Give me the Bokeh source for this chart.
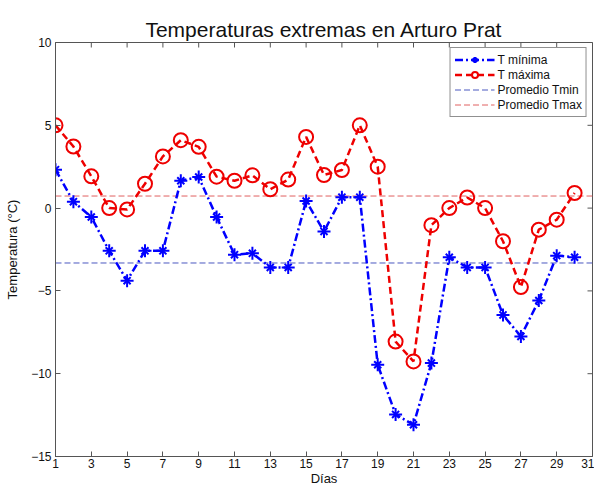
import math
from bokeh.plotting import figure
from bokeh.models import Range1d, FixedTicker, Legend, LegendItem
from bokeh.embed import file_html
from bokeh.resources import INLINE

dias = list(range(1, 31))
t_min = [2.32, 0.39, -0.54, -2.58, -4.38, -2.58, -2.58, 1.65, 1.88, -0.54,
         -2.81, -2.73, -3.58, -3.58, 0.43, -1.41, 0.66, 0.66, -9.46, -12.46,
         -13.08, -9.36, -2.97, -3.58, -3.58, -6.45, -7.75, -5.58, -2.87, -2.97]
t_max = [5.0, 3.72, 1.92, 0.0, -0.08, 1.47, 3.12, 4.1, 3.7, 1.9,
         1.65, 1.98, 1.14, 1.72, 4.3, 2.0, 2.3, 5.0, 2.5, -8.06,
         -9.26, -1.03, 0.0, 0.64, 0.0, -2.0, -4.77, -1.3, -0.7, 0.91]
x_ticks = list(range(1, 32, 2))
y_ticks = [-15, -10, -5, 0, 5, 10]
x_lim = [1, 31]
y_lim = [-15, 10]

prom_min = sum(t_min) / len(t_min)
prom_max = sum(t_max) / len(t_max)

FONT = "Liberation Sans"
AX = "#555555"

p = figure(width=594, height=488, x_range=Range1d(*x_lim), y_range=Range1d(*y_lim),
           output_backend="svg", toolbar_location=None,
           min_border_left=55, min_border_right=2, min_border_top=42, min_border_bottom=20,
           title="Temperaturas extremas en Arturo Prat")
p.title.align = "center"
p.title.text_font = FONT
p.title.text_font_size = "21px"
p.title.text_font_style = "normal"
p.title.text_color = "#111111"
p.title.standoff = 4
p.grid.visible = False
p.outline_line_color = AX
p.outline_line_width = 1

for ax in [p.xaxis[0], p.yaxis[0]]:
    ax.major_tick_in = 5
    ax.major_tick_out = 0
    ax.minor_tick_line_color = None
    ax.axis_line_color = AX
    ax.major_tick_line_color = AX
    ax.major_label_text_font = FONT
    ax.major_label_text_font_size = "12px"
    ax.major_label_text_color = "#111111"
    ax.axis_label_text_font = FONT
    ax.axis_label_text_font_size = "13px"
    ax.axis_label_text_font_style = "normal"
    ax.axis_label_text_color = "#111111"
p.xaxis[0].ticker = FixedTicker(ticks=x_ticks)
p.yaxis[0].ticker = FixedTicker(ticks=y_ticks)
p.xaxis[0].axis_label = "Días"
p.yaxis[0].axis_label = "Temperatura (°C)"
p.xaxis[0].major_label_standoff = 2
p.xaxis[0].axis_label_standoff = 0
p.yaxis[0].major_label_standoff = 4
p.yaxis[0].axis_label_standoff = 8

# inward ticks on the top and right edges of the box
p.scatter(x_ticks, [y_lim[1]] * len(x_ticks), marker="dash", angle=math.pi / 2, size=10,
          line_color=AX, line_width=1)
p.scatter([x_lim[1]] * len(y_ticks), y_ticks, marker="dash", size=10,
          line_color=AX, line_width=1)

r_pmin = p.line(x_lim, [prom_min, prom_min], line_color="#4a58c0", line_width=1,
                line_dash="6 3")
r_pmax = p.line(x_lim, [prom_max, prom_max], line_color="#e06060", line_width=1,
                line_dash="6 3")

r_min_l = p.line(dias, t_min, line_color="#0000ff", line_width=2.5, line_dash="8 3 2 3")
r_min_a = p.scatter(dias, t_min, marker="cross", size=13, line_color="#0000ff", line_width=2)
r_min_b = p.scatter(dias, t_min, marker="x", size=10, line_color="#0000ff", line_width=2)

r_max_l = p.line(dias, t_max, line_color="#ee0000", line_width=2.5, line_dash="7 4")
r_max_c = p.scatter(dias, t_max, marker="circle", size=14, line_color="#ee0000",
                    line_width=2, fill_color=None)

legend = Legend(items=[
    LegendItem(label="T mínima", renderers=[r_min_l, r_min_a, r_min_b]),
    LegendItem(label="T máxima", renderers=[r_max_l, r_max_c]),
    LegendItem(label="Promedio Tmin", renderers=[r_pmin]),
    LegendItem(label="Promedio Tmax", renderers=[r_pmax]),
], location="top_right")
legend.margin = 5
legend.padding = 4
legend.spacing = 0
legend.glyph_width = 40
legend.glyph_height = 15
legend.label_height = 15
legend.label_standoff = 3
legend.label_text_font = FONT
legend.label_text_font_size = "12px"
legend.label_text_color = "#111111"
legend.border_line_color = "#222222"
legend.border_line_width = 1
legend.background_fill_alpha = 1
p.add_layout(legend, "center")

open("out.html", "w").write(file_html(p, INLINE))
